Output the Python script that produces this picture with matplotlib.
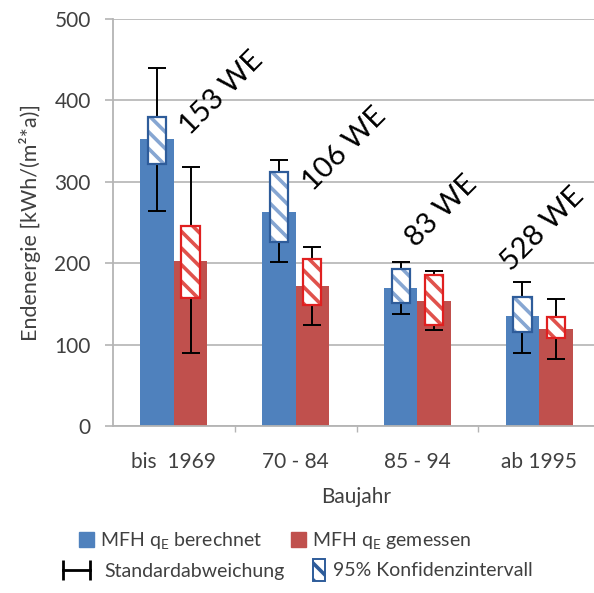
import matplotlib
matplotlib.use("Agg")
import matplotlib.pyplot as plt
import matplotlib.patches as mpatches
from matplotlib.lines import Line2D
from matplotlib.legend_handler import HandlerPatch
import numpy as np

plt.rcParams['font.family'] = ['Lato', 'DejaVu Sans']
plt.rcParams['mathtext.fontset'] = 'custom'
plt.rcParams['mathtext.rm'] = 'Lato'
plt.rcParams['hatch.linewidth'] = 2.6

# data
categories = ["bis  1969", "70 - 84", "85 - 94", "ab 1995"]
units = ["153 WE", "106 WE", "83 WE", "528 WE"]

calc = [352, 263, 170, 135]
calc_sd_lo = [264, 202, 137, 90]
calc_sd_hi = [440, 327, 202, 177]
calc_ci_lo = [322, 226, 151, 115]
calc_ci_hi = [380, 312, 193, 159]

meas = [203, 172, 154, 119]
meas_sd_lo = [90, 124, 118, 82]
meas_sd_hi = [318, 220, 191, 156]
meas_ci_lo = [157, 149, 124, 108]
meas_ci_hi = [246, 205, 185, 134]

BLUE = '#4F81BD'
RED = '#C0504D'
GRID = '#B4B4B4'
TXT = '#404040'

fig = plt.figure(figsize=(5.94, 5.93), dpi=100)
ax = fig.add_axes([113 / 594, 167 / 593, 487 / 594, 407 / 593])

x = np.arange(len(categories))
w = 0.275
ciw = 0.15


def draw_series(xs, vals, sd_lo, sd_hi, ci_lo, ci_hi, color, hatch_col, edge_col):
    ax.bar(xs, vals, width=w, color=color, zorder=2)
    vals = np.array(vals)
    yerr = [vals - np.array(sd_lo), np.array(sd_hi) - vals]
    ax.errorbar(xs, vals, yerr=yerr, fmt='none', ecolor='black', elinewidth=1.4,
                capsize=6.5, capthick=1.4, zorder=3)
    ci_lo = np.array(ci_lo)
    h = np.array(ci_hi) - ci_lo
    # hatched fill, then the frame on top
    ax.bar(xs, h, bottom=ci_lo, width=ciw, color='white', edgecolor=hatch_col,
           linewidth=0, hatch='\\\\', zorder=4)
    ax.bar(xs, h, bottom=ci_lo, width=ciw, fill=False, edgecolor=edge_col,
           linewidth=1.6, zorder=5)


draw_series(x - w / 2, calc, calc_sd_lo, calc_sd_hi, calc_ci_lo, calc_ci_hi,
            BLUE, '#86A6D2', '#2E5C9A')
draw_series(x + w / 2, meas, meas_sd_lo, meas_sd_hi, meas_ci_lo, meas_ci_hi,
            RED, '#E0524C', '#E02020')

# rotated unit counts
lbl_x = [0.39, 1.40, 2.20, 3.03]
lbl_y = [409, 340, 264, 242]
for lx, ly, t in zip(lbl_x, lbl_y, units):
    ax.text(lx, ly, t, rotation=45, rotation_mode='anchor', ha='center', va='center',
            fontsize=21, color='black', zorder=6)

ax.set_xlim(-0.5, 3.5)
ax.set_ylim(0, 500)
ax.set_yticks([0, 100, 200, 300, 400, 500])
ax.set_xticks(x)
ax.set_xticklabels(categories)
ax.set_xticks([0.5, 1.5, 2.5], minor=True)
ax.tick_params(axis='x', which='major', length=0, pad=19, labelsize=15, labelcolor=TXT)
ax.tick_params(axis='x', which='minor', length=4, color=GRID, width=1)
ax.tick_params(axis='y', length=6, color=GRID, width=1.2, pad=10, labelsize=15,
               labelcolor=TXT)
ax.yaxis.grid(True, color=GRID, linewidth=1.2)
ax.set_axisbelow(True)
for s in ['top', 'right']:
    ax.spines[s].set_visible(False)
ax.spines['left'].set_color(GRID)
ax.spines['bottom'].set_color(GRID)
ax.spines['left'].set_linewidth(1.3)
ax.spines['bottom'].set_linewidth(1.3)

ax.set_ylabel('Endenergie [kWh/(m²*a)]', fontsize=15.5, color=TXT)
ax.set_xlabel('Baujahr', fontsize=15, color=TXT)
ax.xaxis.set_label_coords((356.5 - 113) / 487, -(487 - 426) / 407)
ax.yaxis.set_label_coords(-(113 - 41) / 487, 0.5)


def ci_patch(legend, orig_handle, xdescent, ydescent, width, height, fontsize):
    # narrow upright box at the right end of the handle area
    bw = 9
    return mpatches.Rectangle((width - bw - xdescent, -ydescent - 3), bw, height + 6)


h_blue = mpatches.Patch(color=BLUE)
h_red = mpatches.Patch(color=RED)
leg1 = fig.legend([h_blue, h_red],
                  [r'MFH q$_{\mathrm{E}}$ berechnet', r'MFH q$_{\mathrm{E}}$ gemessen'],
                  ncol=2, loc='center', bbox_to_anchor=(275 / 594, 1 - 541 / 593),
                  frameon=False, fontsize=14, handlelength=0.75, handleheight=0.75,
                  handletextpad=0.3, columnspacing=1.5, labelcolor=TXT)

h_sd = Line2D([], [], color='black', lw=2, marker='|', markersize=15, markeredgewidth=2)
h_ci = mpatches.Patch(facecolor='white', edgecolor='#2E5C9A', hatch='\\\\', linewidth=1.4)
leg2 = fig.legend([h_sd, h_ci], ['Standardabweichung', '95% Konfidenzintervall'],
                  ncol=2, loc='center', bbox_to_anchor=(295 / 594, 1 - 571 / 593),
                  frameon=False, fontsize=14, numpoints=2, handlelength=2.0,
                  handletextpad=0.4, columnspacing=0.1, labelcolor=TXT,
                  handler_map={h_ci: HandlerPatch(patch_func=ci_patch)})

fig.savefig('out.png', dpi=100)
